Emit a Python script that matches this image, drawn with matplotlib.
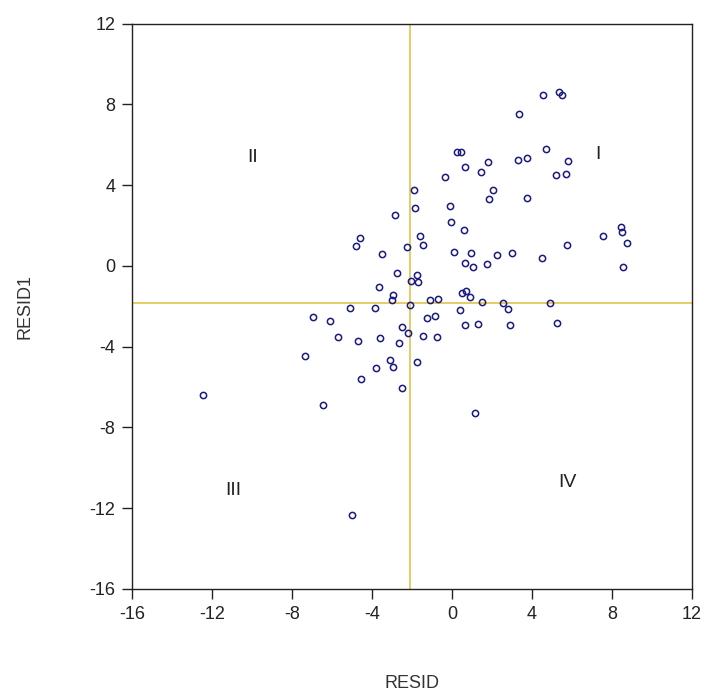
import matplotlib
matplotlib.use("Agg")
import matplotlib.pyplot as plt

plt.rcParams['font.family'] = ['Liberation Sans', 'DejaVu Sans']
plt.rcParams['axes.unicode_minus'] = False

# residual pairs
resid = [4.55, 5.35, 5.5, 3.35, 0.25, 0.45, 0.65, 1.8, 1.45, -0.35,
         3.3, 3.75, 4.7, 5.8, 5.2, 5.7, 2.05, 1.85, 3.75, -1.9,
         -1.85, -0.1, -0.05, 0.6, -1.6, -1.45, 0.1, 0.95, 0.65, 1.05,
         1.75, 2.25, 3.0, 4.5, 5.75, 7.55, 8.45, 8.5, 8.75, 8.55,
         -2.85, -4.6, -4.8, -3.5, -2.25, -2.75, -1.75, -1.7, -2.05, -3.65,
         -2.95, -3.0, -3.85, -2.1, -1.1, -0.7, 0.5, 0.7, 0.9, 1.5,
         0.4, 2.55, 2.8, 4.9, 5.25, 2.9, 0.65, 1.3, -1.25, -0.85,
         -1.45, -0.75, -2.5, -2.2, -2.65, -3.6, -1.75, -3.8, -3.1, -2.95,
         -4.55, -2.5, -6.45, -6.95, -6.1, -5.7, -4.7, -7.35, -5.1,
         -12.45, -5.0, 1.15]
resid1 = [8.47, 8.61, 8.47, 7.52, 5.64, 5.64, 4.90, 5.15, 4.65, 4.41,
          5.25, 5.35, 5.79, 5.20, 4.50, 4.55, 3.76, 3.32, 3.37, 3.76,
          2.87, 2.97, 2.18, 1.78, 1.49, 1.04, 0.69, 0.64, 0.15, -0.05,
          0.10, 0.54, 0.64, 0.40, 1.04, 1.49, 1.93, 1.68, 1.14, -0.05,
          2.52, 1.39, 0.99, 0.59, 0.94, -0.35, -0.45, -0.79, -0.74, -1.04,
          -1.44, -1.68, -2.08, -1.93, -1.68, -1.63, -1.34, -1.24, -1.53, -1.78,
          -2.18, -1.83, -2.13, -1.83, -2.82, -2.92, -2.92, -2.87, -2.57, -2.48,
          -3.47, -3.51, -3.02, -3.32, -3.81, -3.56, -4.75, -5.05, -4.65, -5.0,
          -5.59, -6.04, -6.88, -2.52, -2.72, -3.51, -3.71, -4.46, -2.08,
          -6.39, -12.33, -7.28]

mean_x = -2.1
mean_y = -1.85
quadrants = ['I', 'II', 'III', 'IV']
quad_pos = [(7.3, 5.5), (-9.95, 5.35), (-10.95, -11.1), (5.75, -10.75)]
ticks = [-16, -12, -8, -4, 0, 4, 8, 12]

fig = plt.figure(figsize=(7.11, 7.0), dpi=100)
ax = fig.add_axes([0.1857, 0.1586, 0.7876, 0.8077])

ax.axvline(mean_x, color='#E3C85A', lw=1.3, zorder=1)
ax.axhline(mean_y, color='#E3C85A', lw=1.3, zorder=1)
ax.plot(resid, resid1, 'o', ls='none', ms=4.5, mfc='none', mec='#1a1a80',
        mew=1.1, zorder=2)

for lab, (qx, qy) in zip(quadrants, quad_pos):
    ax.text(qx, qy, lab, ha='center', va='center', fontsize=14, color='#222222')

ax.set_xlim(-16, 12)
ax.set_ylim(-16, 12)
ax.set_xticks(ticks)
ax.set_yticks(ticks)
ax.tick_params(direction='out', length=7, width=1, labelsize=13,
               colors='#222222', pad=5)
for s in ax.spines.values():
    s.set_linewidth(1.0)
    s.set_color('#222222')

ax.set_xlabel('RESID', fontsize=13, color='#333333', labelpad=38)
ax.set_ylabel('RESID1', fontsize=13, color='#333333', labelpad=40)

fig.savefig('out.png', dpi=100)
